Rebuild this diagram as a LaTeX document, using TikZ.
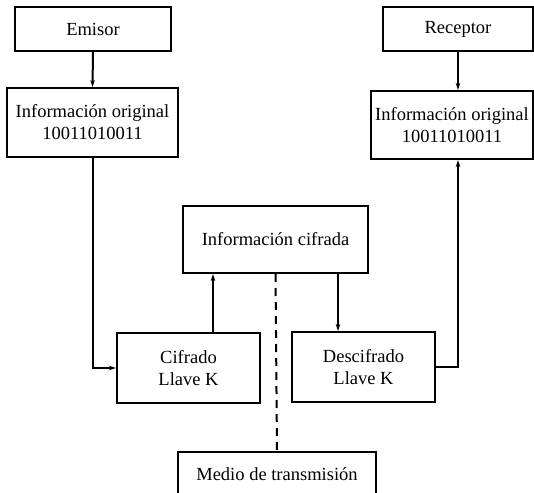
\documentclass[tikz,border=0pt]{standalone}
\usepackage{fontspec}
\setmainfont{Liberation Serif}
\usetikzlibrary{arrows.meta}
\begin{document}
\begin{tikzpicture}[x=1pt,y=-1pt,line width=2pt,
  >={Stealth[length=7pt,width=4.5pt]},
  block/.style={rectangle,draw,align=center,inner sep=2pt,
    font=\rmfamily\fontsize{18.5}{22}\selectfont}]
\path[use as bounding box,clip] (0,0) rectangle (534,492);
\node at (93,29)      (emisor)     [block,minimum width=156pt,minimum height=44pt] {Emisor};
\node at (92.5,122.5) (origA)      [block,minimum width=171pt,minimum height=69pt] {Información original\\10011010011};
\node at (458,29)     (receptor)   [block,minimum width=150pt,minimum height=44pt] {Receptor};
\node at (452,125)    (origB)      [block,minimum width=162pt,minimum height=68pt] {Información original\\10011010011};
\node at (275.5,239.5) (cifrada)   [block,minimum width=185pt,minimum height=67pt] {Información cifrada};
\node at (188.5,368)  (cifrado)    [block,minimum width=143pt,minimum height=70pt] {Cifrado\\Llave K};
\node at (363.5,367)  (descifrado) [block,minimum width=143pt,minimum height=70pt] {Descifrado\\Llave K};
\node at (277,474)    (medio)      [block,minimum width=198pt,minimum height=44pt] {Medio de transmisión};
\draw [->] (emisor.south) -- (origA.north);
\draw [->] (receptor.south) -- (receptor.south |- origB.north);
\draw [->] (origA.south) |- (cifrado.west);
\draw [->] ([xshift=24.5pt]cifrado.north) -- ([xshift=24.5pt]cifrado.north |- cifrada.south);
\draw [->] ([xshift=62.5pt]cifrada.south) -- ([xshift=62.5pt]cifrada.south |- descifrado.north);
\draw [->] (descifrado.east) -| ([xshift=6pt]origB.south);
\draw [dashed,dash pattern=on 8pt off 6pt] (cifrada.south) -- (medio.north);
\end{tikzpicture}
\end{document}
